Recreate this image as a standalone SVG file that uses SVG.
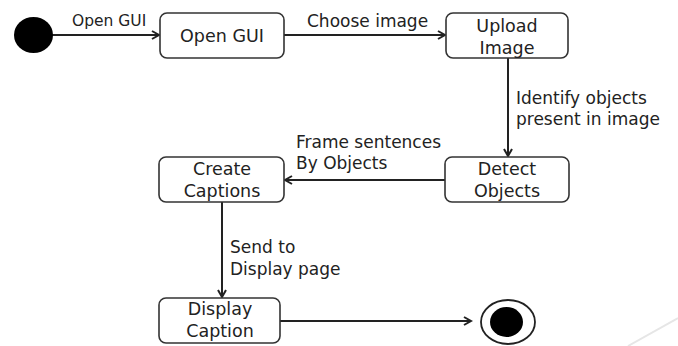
<svg xmlns="http://www.w3.org/2000/svg" width="678" height="346" viewBox="0 0 678 346">
  <defs>
    <marker id="arrow" markerWidth="10" markerHeight="10" refX="8" refY="5" orient="auto" markerUnits="userSpaceOnUse">
      <path d="M1,1 L8,5 L1,9" fill="none" stroke="#222" stroke-width="2" stroke-linejoin="miter"/>
    </marker>
    <style>
      .state { fill: #fff; stroke: #333; stroke-width: 1.6; }
      .node-text { font-family: "DejaVu Sans", Verdana, sans-serif; font-size: 17.5px; fill: #222; text-anchor: middle; }
      .label { font-family: "DejaVu Sans", Verdana, sans-serif; font-size: 17px; fill: #222; }
      .label-small { font-family: "DejaVu Sans", Verdana, sans-serif; font-size: 15.5px; fill: #222; }
      .flow { fill: none; stroke: #222; stroke-width: 2; marker-end: url(#arrow); }
    </style>
  </defs>

  <rect width="678" height="346" fill="#fff"/>

  <!-- faint decorative stroke in the corner -->
  <line x1="628" y1="346" x2="678" y2="318" stroke="#e6e6e6" stroke-width="2"/>

  <g id="connectors">
    <line class="flow" x1="52" y1="35" x2="159" y2="35"/>
    <line class="flow" x1="284" y1="35" x2="445" y2="35"/>
    <line class="flow" x1="508" y1="58" x2="508" y2="156"/>
    <line class="flow" x1="445" y1="180" x2="285" y2="180"/>
    <line class="flow" x1="222" y1="202" x2="222" y2="297"/>
    <line class="flow" x1="280" y1="321" x2="471" y2="321"/>
    <text class="label-small" x="72" y="26">Open GUI</text>
    <text class="label" x="307" y="27">Choose image</text>
    <text class="label" x="516" y="104">Identify objects</text>
    <text class="label" x="516" y="125">present in image</text>
    <text class="label" x="296" y="148">Frame sentences</text>
    <text class="label" x="296" y="169">By Objects</text>
    <text class="label" x="230" y="253">Send to</text>
    <text class="label" x="230" y="275">Display page</text>
  </g>

  <g id="start">
    <ellipse cx="33.5" cy="35" rx="19.5" ry="18" fill="#000"/>
  </g>

  <g id="open-gui">
    <rect class="state" x="160" y="13" width="124" height="45" rx="7"/>
    <text class="node-text" x="222" y="42">Open GUI</text>
  </g>

  <g id="upload-image">
    <rect class="state" x="446" y="13" width="122" height="45" rx="7"/>
    <text class="node-text" x="507" y="32">Upload</text>
    <text class="node-text" x="507" y="54">Image</text>
  </g>

  <g id="detect-objects">
    <rect class="state" x="445" y="157" width="124" height="45" rx="7"/>
    <text class="node-text" x="507" y="175">Detect</text>
    <text class="node-text" x="507" y="197">Objects</text>
  </g>

  <g id="create-captions">
    <rect class="state" x="159" y="157" width="125" height="45" rx="7"/>
    <text class="node-text" x="222" y="175">Create</text>
    <text class="node-text" x="222" y="197">Captions</text>
  </g>

  <g id="display-caption">
    <rect class="state" x="159" y="298" width="121" height="45" rx="7"/>
    <text class="node-text" x="220" y="315">Display</text>
    <text class="node-text" x="220" y="337">Caption</text>
  </g>

  <g id="end">
    <ellipse cx="508" cy="322" rx="27" ry="22" fill="#fff" stroke="#222" stroke-width="1.8"/>
    <ellipse cx="506.5" cy="322" rx="16.5" ry="15" fill="#000"/>
  </g>
</svg>
